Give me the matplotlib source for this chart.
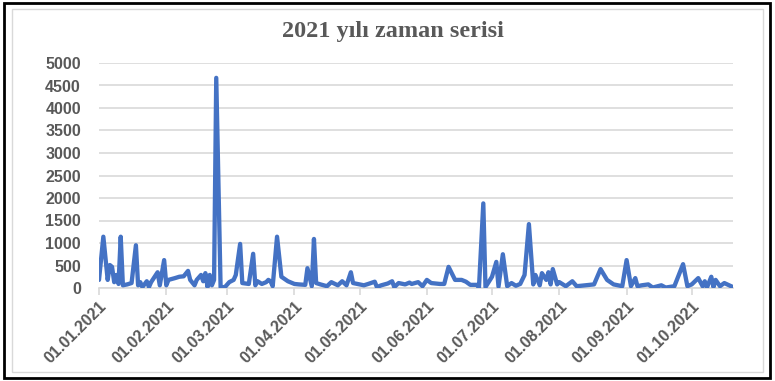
import matplotlib.pyplot as plt
import matplotlib.dates as mdates
from matplotlib.patches import Rectangle
import pandas as pd

title = "2021 yılı zaman serisi"

dates = [
    "2021-01-01", "2021-01-03", "2021-01-05", "2021-01-06", "2021-01-07", "2021-01-08",
    "2021-01-09", "2021-01-10", "2021-01-11", "2021-01-12", "2021-01-14", "2021-01-16",
    "2021-01-18", "2021-01-19", "2021-01-20", "2021-01-21", "2021-01-23", "2021-01-24",
    "2021-01-25", "2021-01-28", "2021-01-29", "2021-01-31", "2021-02-01", "2021-02-02",
    "2021-02-05", "2021-02-07", "2021-02-09", "2021-02-11", "2021-02-12", "2021-02-14",
    "2021-02-15", "2021-02-17", "2021-02-18", "2021-02-19", "2021-02-20", "2021-02-21",
    "2021-02-22", "2021-02-23", "2021-02-24", "2021-02-26", "2021-02-28", "2021-03-02",
    "2021-03-04", "2021-03-05", "2021-03-07", "2021-03-08", "2021-03-11", "2021-03-13",
    "2021-03-14", "2021-03-15", "2021-03-17", "2021-03-19", "2021-03-20", "2021-03-21",
    "2021-03-22", "2021-03-24", "2021-03-26", "2021-03-29", "2021-04-01", "2021-04-03",
    "2021-04-06", "2021-04-07", "2021-04-09", "2021-04-10", "2021-04-11", "2021-04-13",
    "2021-04-16", "2021-04-18", "2021-04-21", "2021-04-23", "2021-04-25", "2021-04-27",
    "2021-04-28", "2021-05-01", "2021-05-03", "2021-05-05", "2021-05-08", "2021-05-09",
    "2021-05-11", "2021-05-14", "2021-05-16", "2021-05-17", "2021-05-19", "2021-05-22",
    "2021-05-24", "2021-05-25", "2021-05-28", "2021-05-30", "2021-06-01", "2021-06-03",
    "2021-06-07", "2021-06-09", "2021-06-11", "2021-06-14", "2021-06-17", "2021-06-19",
    "2021-06-21", "2021-06-24", "2021-06-25", "2021-06-27", "2021-06-28", "2021-07-01",
    "2021-07-03", "2021-07-04", "2021-07-06", "2021-07-08", "2021-07-10", "2021-07-12",
    "2021-07-14", "2021-07-16", "2021-07-18", "2021-07-20", "2021-07-21", "2021-07-23",
    "2021-07-24", "2021-07-26", "2021-07-27", "2021-07-28", "2021-07-29", "2021-07-31",
    "2021-08-01", "2021-08-04", "2021-08-07", "2021-08-09", "2021-08-13", "2021-08-17",
    "2021-08-20", "2021-08-23", "2021-08-26", "2021-08-30", "2021-09-01", "2021-09-03",
    "2021-09-05", "2021-09-06", "2021-09-08", "2021-09-11", "2021-09-13", "2021-09-17",
    "2021-09-19", "2021-09-23", "2021-09-27", "2021-09-29", "2021-10-01", "2021-10-04",
    "2021-10-06", "2021-10-07", "2021-10-08", "2021-10-10", "2021-10-11", "2021-10-12",
    "2021-10-14", "2021-10-16", "2021-10-20",
]

values = [
    180, 1140, 180, 510, 470, 130,
    290, 90, 1140, 60, 80, 110,
    950, 60, 130, 20, 150, 20,
    130, 350, 60, 620, 60, 180,
    220, 250, 260, 380, 180, 60,
    180, 290, 150, 330, 20, 290,
    60, 180, 4670, 20, 20, 130,
    180, 290, 980, 110, 90, 760,
    60, 150, 90, 130, 180, 150,
    40, 1140, 250, 150, 90, 80,
    70, 440, 40, 1090, 110, 80,
    40, 130, 60, 150, 60, 350,
    110, 80, 60, 90, 140, 20,
    60, 100, 150, 20, 110, 80,
    120, 90, 130, 40, 180, 110,
    90, 90, 470, 180, 180, 140,
    70, 70, 10, 1880, 20, 250,
    580, 30, 750, 40, 110, 50,
    90, 290, 1420, 80, 290, 60,
    330, 180, 350, 80, 420, 80,
    130, 40, 150, 40, 60, 80,
    420, 180, 80, 40, 620, 40,
    220, 40, 60, 80, 10, 60,
    10, 40, 530, 40, 80, 220,
    40, 150, 10, 250, 20, 180,
    40, 110, 20,
]

yticks = list(range(0, 5001, 500))

x = pd.to_datetime(dates)
W, H = 775, 381
text_grey = "#595959"
line_grey = "#d9d9d9"

fig = plt.figure(figsize=(W / 100, H / 100), dpi=100)
fig.patch.set_facecolor("white")

# outer black frame and inner chart-area border
fig.add_artist(Rectangle((4 / W, 3 / H), 766 / W, 375 / H, transform=fig.transFigure,
                         fill=False, edgecolor="black", linewidth=2))
fig.add_artist(Rectangle((12 / W, 9 / H), 751 / W, 363 / H, transform=fig.transFigure,
                         fill=False, edgecolor=line_grey, linewidth=1))

ax = fig.add_axes([99 / W, 1 - 288 / H, 634 / W, 225 / H])
ax.plot(x, values, color="#4472C4", linewidth=3.1, solid_joinstyle="round",
        solid_capstyle="round", zorder=3)

ax.set_ylim(0, 5000)
ax.set_yticks(yticks)
ax.set_xlim(x[0], x[-1])
ax.grid(axis="y", color=line_grey, linewidth=1.2)
ax.set_axisbelow(True)

for side in ("top", "right", "left"):
    ax.spines[side].set_visible(False)
ax.spines["bottom"].set_color(line_grey)
ax.spines["bottom"].set_linewidth(1.2)

ax.xaxis.set_major_locator(mdates.MonthLocator())
ax.xaxis.set_major_formatter(mdates.DateFormatter("%d.%m.%Y"))
ax.tick_params(axis="x", direction="out", length=5, width=1.2, color=line_grey,
               labelsize=11.5, labelcolor=text_grey, pad=3)
ax.tick_params(axis="y", length=0, labelsize=11.5, labelcolor=text_grey, pad=13)
for lab in ax.get_xticklabels():
    lab.set_rotation(45)
    lab.set_ha("right")
    lab.set_rotation_mode("anchor")
    lab.set_fontweight("bold")
    lab.set_family("Liberation Sans")
for lab in ax.get_yticklabels():
    lab.set_fontweight("bold")
    lab.set_family("Liberation Sans")

fig.text(393 / W, 1 - 32 / H, title, ha="center", va="center", fontsize=17.5,
         fontweight="bold", family="Liberation Serif", color=text_grey)

fig.savefig("out.png", dpi=100)
